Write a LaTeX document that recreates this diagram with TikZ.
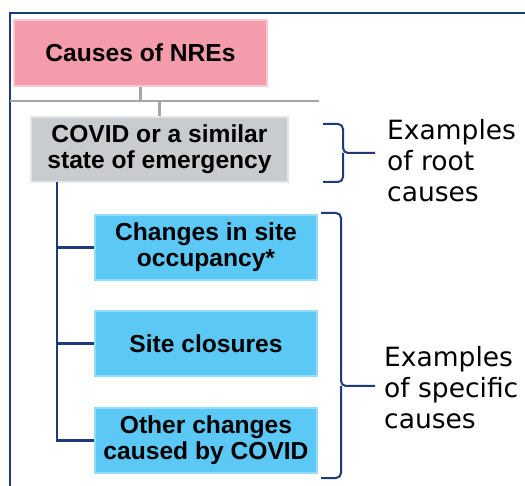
\documentclass[tikz,border=0pt]{standalone}
\usepackage{fontspec}
\setmainfont{Liberation Sans}
\newfontfamily\labelfont{DejaVu Sans}
\definecolor{navy}{HTML}{1F3A78}
\definecolor{pinkfill}{HTML}{F49CAB}
\definecolor{pinkedge}{HTML}{F9C9D2}
\definecolor{grayfill}{HTML}{C9CCCF}
\definecolor{grayedge}{HTML}{E3E5E7}
\definecolor{bluefill}{HTML}{5BC8F5}
\definecolor{blueedge}{HTML}{93DBF8}
\definecolor{connGray}{HTML}{A6A6A6}
\tikzset{
  box/.style={inner sep=0pt, align=center, line width=1.5pt,
    font=\fontsize{24.6}{26}\selectfont\bfseries},
  rootbox/.style={box, fill=pinkfill, draw=pinkedge, minimum width=253pt, minimum height=66pt},
  covidbox/.style={box, fill=grayfill, draw=grayedge, minimum width=257pt, minimum height=65pt},
  causebox/.style={box, fill=bluefill, draw=blueedge, minimum width=222pt, minimum height=65pt},
  tree/.style={draw=navy, line width=2.6pt},
  gline/.style={draw=connGray, line width=2.2pt},
  brace/.style={draw=navy, line width=2pt, rounded corners=5pt},
  sidelabel/.style={align=left, inner sep=0pt, anchor=west,
    font=\labelfont\fontsize{26.5}{31}\selectfont}
}
\begin{document}
\begin{tikzpicture}[x=1pt, y=-1pt]
\useasboundingbox (0,0) rectangle (525,486);
% frame
\draw[navy, line width=1.4pt] (10,486) -- (10,13) -- (526,13);

\node[rootbox] (root) at (140.5,53) {Causes of NREs};
\node[covidbox] (covid) at (159.5,149.5) {COVID or a similar\\state of emergency};
\node[causebox] (c1) at (206,247.5) {Changes in site\\occupancy*};
\node[causebox] (c2) at (206,343.5) {Site closures};
\node[causebox] (c3) at (206,440.5) {Other changes\\caused by COVID};

% gray connectors
\coordinate (hl) at (10,101);
\coordinate (hr) at (319,101);
\coordinate (j1) at (root.south |- hl);
\coordinate (j2) at (covid.north |- hl);
\draw[gline] (root.south) -- (j1);
\draw[gline] (hl) -- (hr);
\draw[gline] (j2) -- (covid.north);

% blue tree
\coordinate (t) at (57,182);
\draw[tree] (t) |- (c3.west);
\draw[tree] (t |- c1.west) -- (c1.west);
\draw[tree] (t |- c2.west) -- (c2.west);

% braces
\coordinate (b1t) at (323,124);
\coordinate (b1b) at (323,182);
\coordinate (b1m) at (375,153);
\draw[brace] (b1t) -- (343,124) -- (343,153) -- (b1m);
\draw[brace] (b1b) -- (343,182) -- (343,153);

\coordinate (b2t) at (321,213);
\coordinate (b2b) at (321,478);
\coordinate (b2m) at (375,386);
\draw[brace] (b2t) -- (341,213) -- (341,386) -- (b2m);
\draw[brace] (b2b) -- (341,478) -- (341,386);

\node[sidelabel] (l1) at (387,161) {Examples\\of root\\causes};
\node[sidelabel] (l2) at (384,388) {Examples\\of specific\\causes};
\end{tikzpicture}
\end{document}
